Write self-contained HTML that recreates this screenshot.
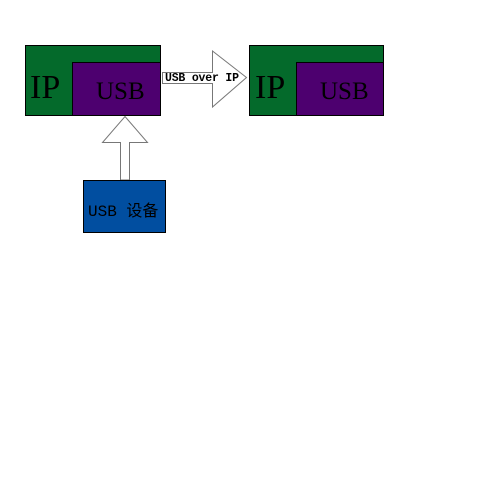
<!DOCTYPE html>
<html><head><style>
body{margin:0;width:500px;height:500px;background:#fff;overflow:hidden}
</style></head><body>
<svg width="500" height="500" xmlns="http://www.w3.org/2000/svg" style="position:absolute;left:0;top:0">
<rect x="25.5" y="45.5" width="135" height="70" fill="#046a2b" stroke="#000"/>
<rect x="72.5" y="62.5" width="88" height="53" fill="#4d006f" stroke="#000"/>
<text x="30" y="98" font-family="Liberation Serif,serif" font-size="34">IP</text>
<text x="96" y="99" font-family="Liberation Serif,serif" font-size="25">USB</text>
<rect x="249.5" y="45.5" width="134" height="70" fill="#046a2b" stroke="#000"/>
<rect x="296.5" y="62.5" width="87" height="53" fill="#4d006f" stroke="#000"/>
<text x="255" y="98" font-family="Liberation Serif,serif" font-size="34">IP</text>
<text x="320" y="99" font-family="Liberation Serif,serif" font-size="25">USB</text>
<polygon points="162.5,72.5 212.5,72.5 212.5,51 246.5,77.5 212.5,107 212.5,83.5 162.5,83.5" fill="#fff" stroke="#777"/>
<text x="165" y="81" font-family="Liberation Mono,monospace" font-size="11.5" font-weight="bold" textLength="74">USB over IP</text>
<polygon points="125,116.5 147.5,142.5 129.5,142.5 129.5,180 120.5,180 120.5,142.5 102.5,142.5" fill="#fff" stroke="#777"/>
<rect x="83.5" y="180.5" width="82" height="52" fill="#014ea0" stroke="#000"/>
<text x="88" y="216" font-family="Liberation Mono,'Noto Sans CJK SC',monospace" font-size="16">USB 设备</text>
</svg>
</body></html>
